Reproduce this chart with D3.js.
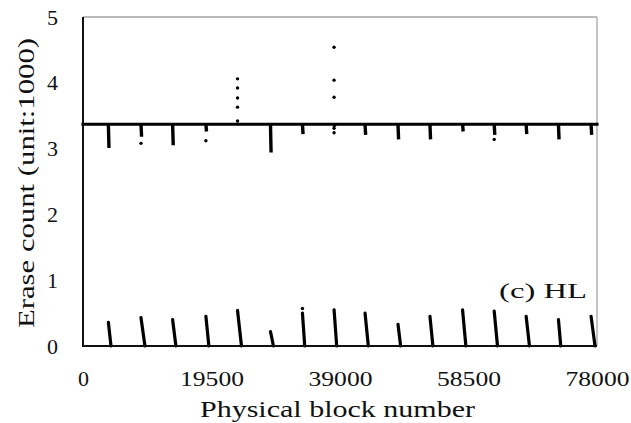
<!DOCTYPE html>
<html>
<head>
<meta charset="utf-8">
<script src="https://cdn.jsdelivr.net/npm/d3@7/dist/d3.min.js"></script>
<style>
  html, body { margin: 0; padding: 0; background: #fff; }
  svg { display: block; }
  svg text { font-family: "Liberation Serif", "Times New Roman", Tinos, Times, "Nimbus Roman", serif !important; fill: #111; font-weight: normal; }
</style>
</head>
<body>
<svg id="chart" width="631" height="423"></svg>
<script>
// Axis ticks
const blockTicks = [0, 19500, 39000, 58500, 78000];
const countTicks = [0, 1, 2, 3, 4, 5];

// Erase count of the bulk of blocks (unit: 1000)
const bandLevel = 3.37;

// Block numbers where the periodic clusters sit
const clusterBlocks = [3850, 8800, 13600, 18650, 23450, 28450, 33300, 38100,
                       42800, 47800, 52650, 57600, 62400, 67250, 72150, 77100];
// Block number reached at the foot of each low cluster (clusters lean right)
const clusterFeet  = [4250, 9400, 14100, 19100, 24050, 28900, 33650, 38500,
                       43300, 48200, 53100, 58100, 62900, 67750, 72500, 77700];
// Highest erase count inside each low cluster
const lowPeaks     = [0.36, 0.43, 0.40, 0.45, 0.54, 0.22, 0.50, 0.55,
                       0.50, 0.33, 0.45, 0.55, 0.53, 0.45, 0.40, 0.45];
// Lowest erase count reached below the band at each cluster
const highFloors   = [3.01, 3.18, 3.05, 3.26, 3.37, 2.94, 3.22, 3.33,
                       3.21, 3.14, 3.14, 3.26, 3.21, 3.22, 3.14, 3.21];

// Isolated blocks outside the dense groups
const strayBlocks = [23450, 23450, 23450, 23450, 23450,
                     38100, 38100, 38100, 38100, 38100,
                     8800, 18650, 62400, 33300];
const strayCounts = [4.06, 3.92, 3.77, 3.63, 3.42,
                     4.54, 4.04, 3.78, 3.31, 3.24,
                     3.08, 3.12, 3.14, 0.57];

const FONT = '"Liberation Serif", "Times New Roman", Tinos, Times, serif';

const svg = d3.select("#chart");
const x = d3.scaleLinear().domain([0, 78000]).range([83, 597]);
const y = d3.scaleLinear().domain([0, 5]).range([346, 17]);

// Plot frame: light top/right, dark left/bottom axes
svg.append("line").attr("x1", x(0)).attr("x2", x(78000)).attr("y1", y(5)).attr("y2", y(5))
  .attr("stroke", "#777").attr("stroke-width", 1);
svg.append("line").attr("x1", x(78000)).attr("x2", x(78000)).attr("y1", y(5)).attr("y2", y(0))
  .attr("stroke", "#888").attr("stroke-width", 1);

// Main band of blocks
svg.append("line")
  .attr("x1", x(0)).attr("x2", x(78000))
  .attr("y1", y(bandLevel)).attr("y2", y(bandLevel))
  .attr("stroke", "#000").attr("stroke-width", 3.2).attr("stroke-linecap", "square");

// Clusters hanging below the band
svg.append("g").selectAll("line").data(clusterBlocks).join("line")
  .attr("x1", d => x(d)).attr("x2", d => x(d) + 0.6)
  .attr("y1", y(bandLevel)).attr("y2", (d, i) => y(highFloors[i]))
  .attr("stroke", "#000").attr("stroke-width", 3.4);

// Low clusters rising from zero
svg.append("g").selectAll("line").data(clusterBlocks).join("line")
  .attr("x1", d => x(d)).attr("y1", (d, i) => y(lowPeaks[i]))
  .attr("x2", (d, i) => x(clusterFeet[i])).attr("y2", y(0))
  .attr("stroke", "#000").attr("stroke-width", 3.2).attr("stroke-linecap", "round");

// Stray points
svg.append("g").selectAll("circle").data(strayBlocks).join("circle")
  .attr("cx", d => x(d)).attr("cy", (d, i) => y(strayCounts[i]))
  .attr("r", 1.7).attr("fill", "#000");

// Axes lines
svg.append("line").attr("x1", x(0)).attr("x2", x(0)).attr("y1", y(5)).attr("y2", y(0))
  .attr("stroke", "#111").attr("stroke-width", 2);
svg.append("line").attr("x1", x(0) - 1).attr("x2", x(78000)).attr("y1", y(0)).attr("y2", y(0))
  .attr("stroke", "#111").attr("stroke-width", 2);

// X axis labels
const xAxis = d3.axisBottom(x).tickValues(blockTicks).tickFormat(d3.format("d"))
  .tickSize(0).tickPadding(24.4);
const gx = svg.append("g").attr("transform", `translate(0,${y(0)})`).call(xAxis);
gx.attr("font-family", FONT);
gx.select(".domain").remove();
gx.selectAll("text")
  .attr("font-family", FONT)
  .attr("font-size", 22).attr("fill", "#111")
  .each(function(d) {
    if (String(d).length > 1) d3.select(this).attr("textLength", 64).attr("lengthAdjust", "spacingAndGlyphs");
  });

// Y axis labels
const yAxis = d3.axisLeft(y).tickValues(countTicks).tickFormat(d3.format("d"))
  .tickSize(0).tickPadding(25);
const gy = svg.append("g").attr("transform", `translate(${x(0)},0)`).call(yAxis);
gy.attr("font-family", FONT);
gy.select(".domain").remove();
gy.selectAll("text")
  .attr("font-family", FONT)
  .attr("font-size", 22).attr("fill", "#111");

// Axis titles
svg.append("text")
  .attr("x", 337.5).attr("y", 417)
  .attr("font-family", FONT)
  .attr("text-anchor", "middle").attr("font-size", 24)
  .attr("textLength", 275).attr("lengthAdjust", "spacingAndGlyphs")
  .text("Physical block number");

svg.append("text")
  .attr("transform", "translate(34,183) rotate(-90)")
  .attr("font-family", FONT)
  .attr("text-anchor", "middle").attr("font-size", 24)
  .attr("textLength", 290).attr("lengthAdjust", "spacingAndGlyphs")
  .text("Erase count (unit:1000)");

// Panel tag
svg.append("text")
  .attr("x", 587).attr("y", 298)
  .attr("font-family", FONT)
  .attr("text-anchor", "end").attr("font-size", 22)
  .attr("textLength", 88).attr("lengthAdjust", "spacingAndGlyphs")
  .text("(c) HL");
</script>
</body>
</html>
